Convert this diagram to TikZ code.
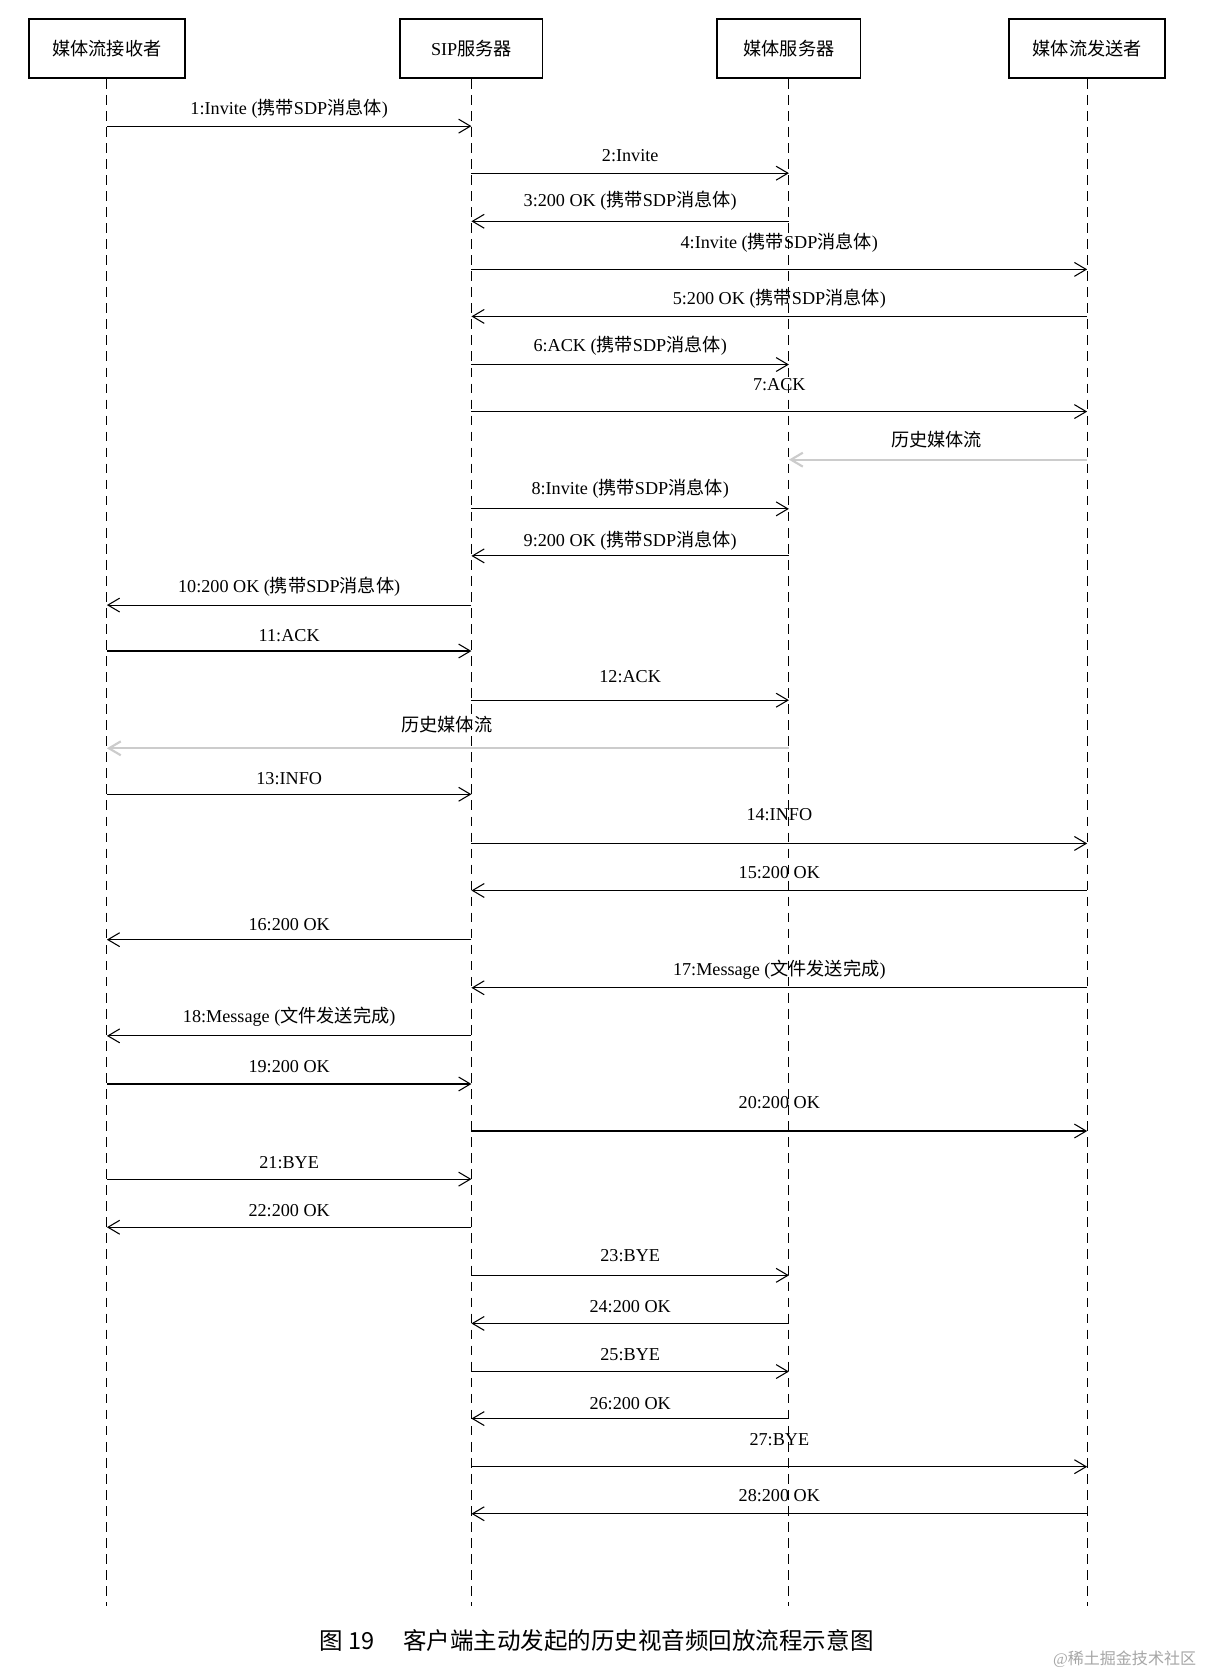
\documentclass[tikz,border=0pt]{standalone}
\usepackage{fontspec}
\setmainfont{Liberation Serif}
\newfontfamily\zhf{Noto Sans CJK SC}
\newcommand\zh[1]{{\zhf #1}}
\usetikzlibrary{arrows.meta,calc}
\begin{document}
\begin{tikzpicture}[x=1pt,y=-1pt,
  box/.style={draw,line width=1.6pt,minimum height=55pt,inner sep=0pt,font=\fontsize{17}{20}\selectfont},
  life/.style={dashed,line width=1pt,dash pattern=on 9pt off 6pt},
  msg/.style={line width=1pt,-{Straight Barb[length=11pt,width=13pt]}},
  gmsg/.style={msg,draw=black!20,line width=2pt},
  lab/.style={font=\fontsize{17}{20}\selectfont,inner sep=1pt}]
\useasboundingbox (0,0) rectangle (1130,1565);
\fill[white] (0,0) rectangle (1130,1565);
\node[box,minimum width=146pt] (A) at (100,45.5) {\zh{媒体流接收者}};
\node[box,minimum width=133pt] (B) at (441,45.5) {SIP\zh{服务器}};
\node[box,minimum width=134pt] (C) at (738,45.5) {\zh{媒体服务器}};
\node[box,minimum width=146pt] (D) at (1017,45.5) {\zh{媒体流发送者}};
\foreach \n in {A,B,C,D} {\coordinate (\n e) at (\n |- 0,1502); \draw[life] (\n.south) -- (\n e);}
\foreach \y/\ly/\f/\t/\l in {
118/102/A/B/{1:Invite (\zh{携带}SDP\zh{消息体})},
162/146/B/C/{2:Invite},
207/188/C/B/{3:200 OK (\zh{携带}SDP\zh{消息体})},
252/227/B/D/{4:Invite (\zh{携带}SDP\zh{消息体})},
296/279/D/B/{5:200 OK (\zh{携带}SDP\zh{消息体})},
341/323/B/C/{6:ACK (\zh{携带}SDP\zh{消息体})},
385/360/B/D/{7:ACK},
476/457/B/C/{8:Invite (\zh{携带}SDP\zh{消息体})},
520/506/C/B/{9:200 OK (\zh{携带}SDP\zh{消息体})},
566/549/B/A/{10:200 OK (\zh{携带}SDP\zh{消息体})},
609/595/A/B/{11:ACK},
655/633/B/C/{12:ACK},
743/728/A/B/{13:INFO},
789/762/B/D/{14:INFO},
833/816/D/B/{15:200 OK},
879/865/B/A/{16:200 OK},
924/907/D/B/{17:Message (\zh{文件发送完成})},
969/951/B/A/{18:Message (\zh{文件发送完成})},
1014/998/A/B/{19:200 OK},
1058/1031/B/D/{20:200 OK},
1103/1088/A/B/{21:BYE},
1148/1132/B/A/{22:200 OK},
1193/1175/B/C/{23:BYE},
1238/1222/C/B/{24:200 OK},
1283/1267/B/C/{25:BYE},
1327/1313/C/B/{26:200 OK},
1372/1347/B/D/{27:BYE},
1416/1399/D/B/{28:200 OK}}
{\draw[msg] (\f |- 0,\y) coordinate (s) -- (\t |- 0,\y) coordinate (t);
 \node[lab] at ($(s)!0.5!(t) + (0,\ly-\y)$) {\l};}
\draw[gmsg] (D |- 0,430) -- (C |- 0,430);
\node[lab] (g1) at (876,411) {\zh{历史媒体流}};
\draw[gmsg] (C |- 0,700) -- (A |- 0,700);
\node[lab] (g2) at (418,678) {\zh{历史媒体流}};
\node[font=\fontsize{22}{26}\selectfont] (cap) at (558,1535) {\zh{图 19\quad\ 客户端主动发起的历史视音频回放流程示意图}};
\node[font=\fontsize{15}{18}\selectfont,text=black!35] (wm) at (1052,1552) {@\zh{稀土掘金技术社区}};
\end{tikzpicture}
\end{document}
